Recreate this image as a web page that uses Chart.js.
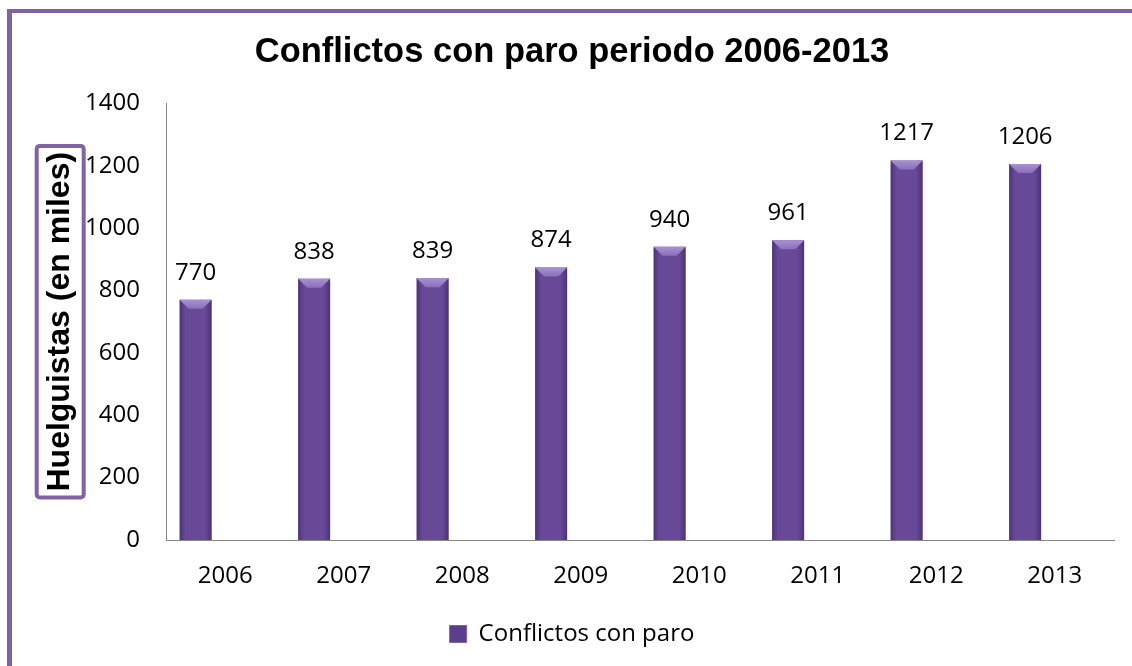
<!DOCTYPE html>
<html lang="es">
<head>
    <meta charset="UTF-8">
    <title>Conflictos con paro periodo 2006-2013</title>
    <script src="https://cdn.jsdelivr.net/npm/chart.js"></script>
    <style>
        html, body {
            margin: 0;
            padding: 0;
            background: #ffffff;
            overflow: hidden;
        }

        #frame {
            position: absolute;
            left: 7px;
            top: 9px;
            width: 1125px;
            height: 657px;
            border-left: 5px solid #8064a2;
            border-top: 4px solid #8064a2;
        }

        #wrap {
            position: absolute;
            left: 0;
            top: 0;
            width: 1120px;
            height: 653px;
        }
    </style>
</head>
<body>
    <div id="frame">
        <div id="wrap"><canvas id="paroChart"></canvas></div>
    </div>

    <script>
        const years = ["2006", "2007", "2008", "2009", "2010", "2011", "2012", "2013"];
        const strikers = [770, 838, 839, 874, 940, 961, 1217, 1206];
        const emptySlot = [null, null, null, null, null, null, null, null];
        const yTicks = [0, 200, 400, 600, 800, 1000, 1200, 1400];

        const tickFont = { family: "'Open Sans', sans-serif", size: 24 };
        const yTitleSize = 32;

        // shading on each bar (dark edges + lighter bevel on top)
        const barShade = {
            id: "barShade",
            afterDatasetsDraw(chart) {
                const ctx = chart.ctx;
                chart.getDatasetMeta(0).data.forEach(bar => {
                    const left = bar.x - bar.width / 2;
                    const right = bar.x + bar.width / 2;
                    const top = bar.y;
                    const bottom = bar.base;
                    ctx.save();
                    const g = ctx.createLinearGradient(left, 0, right, 0);
                    g.addColorStop(0, "rgba(40,20,70,0.45)");
                    g.addColorStop(0.18, "rgba(40,20,70,0.05)");
                    g.addColorStop(0.8, "rgba(40,20,70,0.05)");
                    g.addColorStop(1, "rgba(40,20,70,0.45)");
                    ctx.fillStyle = g;
                    ctx.fillRect(left, top, right - left, bottom - top);
                    const bev = 9;
                    const tg = ctx.createLinearGradient(0, top, 0, top + bev);
                    tg.addColorStop(0, "#a991d2");
                    tg.addColorStop(1, "#8b6fbb");
                    ctx.beginPath();
                    ctx.moveTo(left, top);
                    ctx.lineTo(right, top);
                    ctx.lineTo(right - bev, top + bev);
                    ctx.lineTo(left + bev, top + bev);
                    ctx.closePath();
                    ctx.fillStyle = tg;
                    ctx.fill();
                    ctx.restore();
                });
            }
        };

        // value above each bar
        const valueLabels = {
            id: "valueLabels",
            afterDatasetsDraw(chart) {
                const ctx = chart.ctx;
                ctx.save();
                ctx.font = "24px 'Open Sans', sans-serif";
                ctx.fillStyle = "#000000";
                ctx.textAlign = "center";
                ctx.textBaseline = "middle";
                chart.getDatasetMeta(0).data.forEach((bar, i) => {
                    ctx.fillText(String(strikers[i]), bar.x, bar.y - 27);
                });
                ctx.restore();
            }
        };

        // purple box round the y axis title
        const titleBox = {
            id: "titleBox",
            afterDraw(chart) {
                const ctx = chart.ctx;
                const y = chart.scales.y;
                const t = y.options.title;
                ctx.save();
                ctx.font = "bold " + yTitleSize + "px 'Liberation Sans', Arial, sans-serif";
                const w = ctx.measureText(t.text).width;
                const cx = y.left + t.padding.top + yTitleSize * 1.2 / 2;
                const cy = (chart.chartArea.top + chart.chartArea.bottom) / 2;
                const halfW = 23.5;
                const halfH = w / 2 + 6;
                ctx.strokeStyle = "#8064a2";
                ctx.lineWidth = 4;
                ctx.beginPath();
                ctx.roundRect(cx - halfW, cy - halfH, halfW * 2, halfH * 2, 3);
                ctx.stroke();
                ctx.restore();
            }
        };

        new Chart(document.getElementById("paroChart"), {
            type: "bar",
            data: {
                labels: years,
                datasets: [
                    {
                        label: "Conflictos con paro",
                        data: strikers,
                        backgroundColor: "#6a4c9c",
                        borderWidth: 0,
                        barPercentage: 0.54,
                        categoryPercentage: 1.0
                    },
                    {
                        label: "",
                        data: emptySlot,
                        backgroundColor: "#6a4c9c",
                        barPercentage: 0.54,
                        categoryPercentage: 1.0
                    }
                ]
            },
            options: {
                responsive: true,
                maintainAspectRatio: false,
                animation: false,
                layout: { padding: { left: 0, right: 0, top: 0, bottom: 10 } },
                plugins: {
                    title: {
                        display: true,
                        text: "Conflictos con paro periodo 2006-2013",
                        color: "#000000",
                        font: { family: "'Liberation Sans', Arial, sans-serif", size: 34.5, weight: "bold" },
                        padding: { top: 19, bottom: 30 }
                    },
                    legend: {
                        position: "bottom",
                        labels: {
                            boxWidth: 17,
                            boxHeight: 17,
                            color: "#000000",
                            font: tickFont,
                            padding: 10,
                            generateLabels(chart) {
                                return [{
                                    text: "Conflictos con paro",
                                    fillStyle: "#5b3f8c",
                                    strokeStyle: "#7a62a8",
                                    lineWidth: 1,
                                    datasetIndex: 0,
                                    fontColor: "#000000"
                                }];
                            }
                        }
                    },
                    tooltip: { enabled: false }
                },
                scales: {
                    x: {
                        grid: { display: false, drawTicks: false },
                        border: { display: true, color: "#868686", width: 1 },
                        ticks: { color: "#000000", font: tickFont, padding: 22, maxRotation: 0 },
                        afterFit(scale) { scale.height = 72; }
                    },
                    y: {
                        min: 0,
                        max: 1400,
                        grid: { display: false, drawTicks: false },
                        border: { display: true, color: "#868686", width: 1 },
                        afterBuildTicks(scale) { scale.ticks = yTicks.map(v => ({ value: v })); },
                        ticks: { color: "#000000", font: tickFont, padding: 26, callback: v => String(v) },
                        title: {
                            display: true,
                            text: "Huelguistas (en miles)",
                            color: "#000000",
                            font: { family: "'Liberation Sans', Arial, sans-serif", size: yTitleSize, weight: "bold" },
                            padding: { top: 29, bottom: 6 }
                        },
                        afterFit(scale) { scale.width = 154; }
                    },
                    // empty margin on the right side of the plot
                    yRight: {
                        position: "right",
                        display: true,
                        grid: { display: false, drawTicks: false },
                        border: { display: false },
                        ticks: { display: false },
                        afterFit(scale) { scale.width = 18; }
                    }
                }
            },
            plugins: [barShade, valueLabels, titleBox]
        });
    </script>
</body>
</html>
